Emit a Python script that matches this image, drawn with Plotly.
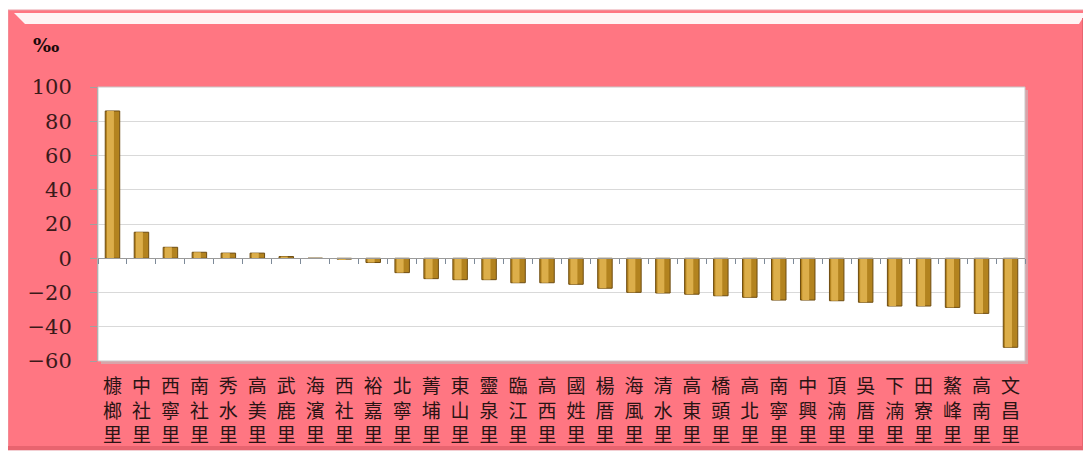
import plotly.graph_objects as go

villages = ["槺榔里", "中社里", "西寧里", "南社里", "秀水里", "高美里", "武鹿里", "海濱里",
            "西社里", "裕嘉里", "北寧里", "菁埔里", "東山里", "靈泉里", "臨江里", "高西里",
            "國姓里", "楊厝里", "海風里", "清水里", "高東里", "橋頭里", "高北里", "南寧里",
            "中興里", "頂湳里", "吳厝里", "下湳里", "田寮里", "鰲峰里", "高南里", "文昌里"]
values = [86.0, 15.2, 6.4, 3.5, 3.0, 3.0, 1.0, 0.0,
          -0.5, -2.5, -8.4, -11.9, -12.5, -12.5, -14.3, -14.3,
          -15.2, -17.5, -19.9, -20.3, -21.0, -21.9, -22.8, -24.4,
          -24.4, -24.8, -25.7, -27.9, -27.9, -28.7, -32.2, -52.0]
y_ticks = [-60, -40, -20, 0, 20, 40, 60, 80, 100]
unit_label = "‰"

tick_text = ["<br>".join(list(v)) for v in villages]

fig = go.Figure()
# main bar body
fig.add_trace(go.Bar(x=villages, y=values, width=0.5,
                     marker=dict(color="#B3831F", line=dict(color="#6E4C10", width=1)),
                     showlegend=False, hoverinfo="x+y"))
# highlight strip for a cylindrical look
fig.add_trace(go.Bar(x=villages, y=values, width=0.24, offset=-0.19,
                     marker=dict(color="#DCAE4A", line=dict(width=0)),
                     showlegend=False, hoverinfo="skip"))
# dummy trace on the zero-line axis
fig.add_trace(go.Scatter(x=villages, y=[None] * len(villages), xaxis="x2",
                         mode="markers", showlegend=False, hoverinfo="skip"))

OFF = 8  # page body margin
W, H = 1091 - OFF, 452 - OFF
PL, PR, PT, PB = 98, 1025, 87, 361  # plot area in page pixels
L = PL - OFF
T = PT - OFF
R = W - (PR - OFF)
B = H - (PB - OFF)
pw, ph = PR - PL, PB - PT

def px_x(p):
    return (p - PL) / pw

def px_y(p):
    return (PB - p) / ph

shapes = [
    # pink frame
    dict(type="rect", xref="paper", yref="paper", layer="below",
         x0=px_x(8), x1=px_x(1087), y0=px_y(450), y1=px_y(10),
         fillcolor="#FF7682", line=dict(color="#E8A0A8", width=1)),
    # top bevel highlight
    dict(type="path", xref="paper", yref="paper", layer="below",
         path=(f"M {px_x(14)},{px_y(13)} L {px_x(1086)},{px_y(13)} "
               f"L {px_x(1079)},{px_y(24)} L {px_x(25)},{px_y(24)} Z"),
         fillcolor="#FFF4F5", line=dict(width=0)),
    # right bevel shade
    dict(type="rect", xref="paper", yref="paper", layer="below",
         x0=px_x(1082), x1=px_x(1087), y0=px_y(450), y1=px_y(18),
         fillcolor="#E8646F", line=dict(width=0)),
    # bottom bevel shade
    dict(type="rect", xref="paper", yref="paper", layer="below",
         x0=px_x(8), x1=px_x(1087), y0=px_y(450), y1=px_y(446),
         fillcolor="#E8646F", line=dict(width=0)),
    # plot area shadow
    dict(type="rect", xref="paper", yref="paper", layer="below",
         x0=px_x(PL + 3), x1=px_x(PR + 3), y0=px_y(PB + 3), y1=px_y(PT + 3),
         fillcolor="#D9A3A8", line=dict(width=0)),
    # plot area white
    dict(type="rect", xref="paper", yref="paper", layer="below",
         x0=0, x1=1, y0=0, y1=1,
         fillcolor="#FFFFFF", line=dict(color="#C8C8C8", width=1)),
]

fig.update_layout(
    width=W, height=H,
    margin=dict(l=L, r=R, t=T, b=B, autoexpand=False),
    paper_bgcolor="#FFFFFF",
    plot_bgcolor="rgba(0,0,0,0)",
    barmode="overlay",
    shapes=shapes,
    xaxis=dict(type="category", categoryorder="array", categoryarray=villages,
               range=[-0.5, len(villages) - 0.5], automargin=False,
               tickmode="array", tickvals=villages, ticktext=tick_text,
               ticks="", showgrid=False, zeroline=False, showline=False,
               ticklabelstandoff=12,
               tickfont=dict(family="Noto Sans CJK TC", size=19, color="#2A1414")),
    xaxis2=dict(type="category", categoryorder="array", categoryarray=villages,
                range=[-0.5, len(villages) - 0.5], overlaying="x", anchor="free",
                position=(0 - y_ticks[0]) / (y_ticks[-1] - y_ticks[0]),
                showticklabels=False, ticks="outside", tickson="boundaries",
                ticklen=5, tickcolor="#7D8A99", tickwidth=1,
                showline=True, linecolor="#9A9A9A", linewidth=1,
                showgrid=False, zeroline=False),
    yaxis=dict(range=[y_ticks[0], y_ticks[-1]], tickmode="array", tickvals=y_ticks,
               automargin=False,
               ticks="outside", ticklen=7, tickcolor="#A0A0A0",
               showline=True, linecolor="#B0B0B0", linewidth=1,
               showgrid=True, gridcolor="#D9D9D9", gridwidth=1,
               zeroline=False, ticklabelstandoff=14,
               tickfont=dict(family="DejaVu Serif", size=21, color="#3A1A1A")),
    annotations=[dict(text="<b>" + unit_label + "</b>", xref="paper", yref="paper",
                      x=px_x(31), y=px_y(45), xanchor="left", yanchor="middle",
                      showarrow=False,
                      font=dict(family="DejaVu Serif", size=19, color="#1A0A0A"))],
)

fig.write_html("out.html")
